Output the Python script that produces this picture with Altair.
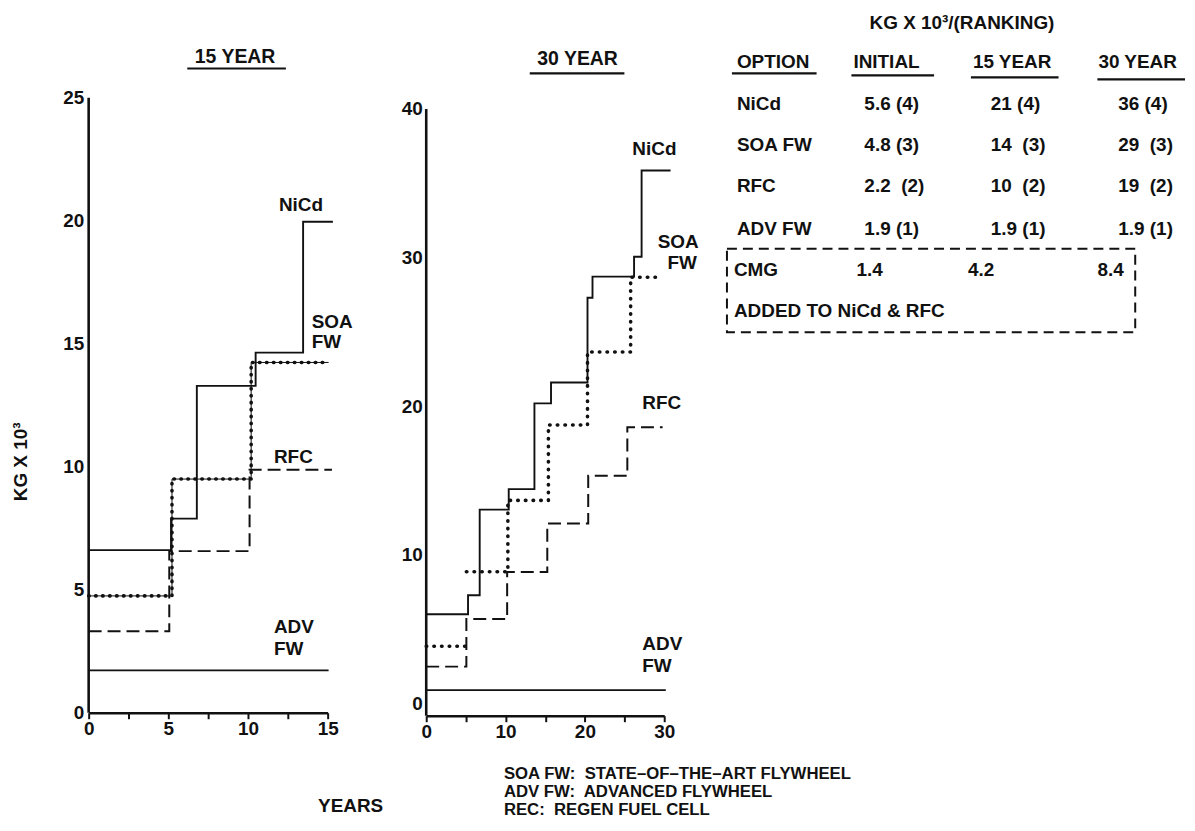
import altair as alt
import pandas as pd

FONT = "Liberation Sans"
INK = "#111111"
NB = "\u00a0"

# ---------------- data ----------------
# 15-YEAR panel (x = years, y = KG x 10^3)
nicd15_x = [0, 5.17, 6.79, 10.48, 13.46, 15.33]
nicd15_y = [6.61, 7.89, 13.29, 14.64, 19.96, 19.96]
soa15_x = [0, 5.23, 10.20, 15.06]
soa15_y = [4.75, 9.50, 14.24, 14.24]
rfc15_x = [0, 5.06, 10.10, 15.27]
rfc15_y = [3.31, 6.57, 9.88, 9.88]
adv15_x = [0, 15.06]
adv15_y = [1.72, 1.72]

# 30-YEAR panel
nicd30_x = [0, 5.27, 6.74, 10.40, 13.64, 15.73, 20.33, 20.96, 26.20, 27.15, 30.80]
nicd30_y = [5.99, 7.26, 13.03, 14.41, 20.18, 21.59, 27.29, 28.71, 30.05, 35.86, 35.86]
soa30a_x = [0, 4.93]
soa30a_y = [3.83, 3.83]
soa30b_x = [5.06, 10.29, 15.40, 20.33, 25.77, 29.33]
soa30b_y = [8.85, 13.65, 18.73, 23.64, 28.67, 28.67]
rfc30_x = [0, 5.06, 10.20, 15.26, 20.42, 25.35, 29.80]
rfc30_y = [2.46, 5.66, 8.83, 12.09, 15.31, 18.57, 18.57]
adv30_x = [0, 30.20]
adv30_y = [0.88, 0.88]

x15_ticks = [0, 2.5, 5, 7.5, 10, 12.5, 15]
y15_ticks = [0, 5, 10, 15, 20, 25]
x30_ticks = [0, 5, 10, 15, 20, 25, 30]
y30_ticks = [0, 10, 20, 30, 40]

# series labels
p1_labels = ["NiCd", "SOA", "FW", "RFC", "ADV", "FW"]
p2_labels = ["NiCd", "SOA", "FW", "RFC", "ADV", "FW"]
panel_titles = ["15 YEAR", "30 YEAR"]
y_title = "KG X 10³"
x_title = "YEARS"
footnotes = ["SOA FW:" + NB + " STATE–OF–THE–ART FLYWHEEL",
             "ADV FW:" + NB + " ADVANCED FLYWHEEL",
             "REC:" + NB + " REGEN FUEL CELL"]

# table
table_title = "KG X 10³/(RANKING)"
headers = ["OPTION", "INITIAL", "15 YEAR", "30 YEAR"]
options = ["NiCd", "SOA FW", "RFC", "ADV FW"]
initial = ["5.6 (4)", "4.8 (3)", "2.2" + NB + " (2)", "1.9 (1)"]
year15 = ["21 (4)", "14" + NB + " (3)", "10" + NB + " (2)", "1.9 (1)"]
year30 = ["36 (4)", "29" + NB + " (3)", "19" + NB + " (2)", "1.9 (1)"]
cmg_row = ["CMG", "1.4", "4.2", "8.4"]
cmg_note = "ADDED TO NiCd & RFC"

# ---------------- layout / style constants ----------------
FS = 19
P1_W, P1_H, P1_YMAX = 240, 706, 28.58
P2_W, P2_H, P2_YMIN, P2_YMAX = 239, 709, -0.845, 46.68
GAP = 99
P3_X0, P3_X1, P3_Y0, P3_Y1 = 766, 1190, 8, 348

# label anchor positions (data units of each panel)
p1_lab_x = [11.94, 14.0, 14.0, 11.63, 11.63, 11.63]
p1_lab_y = [20.65, 15.87, 15.06, 10.40, 3.48, 2.59]
p2_lab_x = [25.98, 31.76, 32.26, 27.24, 27.24, 27.24]
p2_lab_y = [37.29, 31.06, 29.65, 20.20, 3.98, 2.51]
p2_lab_align = ["left", "center", "center", "left", "left", "left"]
FOOT_X = 9.79
FOOT_Y = [-4.80, -6.01, -7.22]
FOOT_FS = 16.8

# table positions (page pixel frame of the table panel)
HEAD_X = [740, 857, 977, 1103]
HEAD_Y = 61
UNDER_X = [735, 855, 975, 1102]
UNDER_X2 = [820, 938, 1063, 1190]
UNDER_Y = [72, 74, 76, 78]
CELL_X = [740, 868, 995, 1123]
ROW_Y = [103, 144, 185, 228]
CMG_X = [737, 860, 972, 1102]
CMG_Y = 269
NOTE_XY = (737, 311)
TITLE_XY = (966, 21)
BOX = (730, 248, 1140, 332)


def txt(**kw):
    base = dict(font=FONT, fontSize=FS, fontWeight="bold", color=INK, baseline="middle")
    base.update(kw)
    return base


def axis_common(**kw):
    base = dict(title=None, grid=False, labelFont=FONT, labelFontSize=FS, labelFontWeight="bold",
                labelColor=INK, labelFlush=False, labelOverlap=False)
    base.update(kw)
    return alt.Axis(**base)


def series_df(xs, ys, seg=0):
    return pd.DataFrame({"x": xs, "y": ys, "seg": seg, "i": range(len(xs))})


def make_panel(sx, sy, ax, ay, width, height, solid, dotted, dashed, beads,
               yrule, labels, lab_x, lab_y, lab_align, title, title_xy, under,
               extra_texts):
    X = lambda f="x": alt.X(f"{f}:Q", scale=sx, axis=ax)
    Y = lambda f="y": alt.Y(f"{f}:Q", scale=sy, axis=ay)
    layers = []
    layers.append(alt.Chart(pd.DataFrame({"x": [0], "y": [yrule[0]], "y2": [yrule[1]]}))
                  .mark_rule(color=INK, strokeWidth=2.6)
                  .encode(x=X(), y=Y(), y2="y2:Q"))
    for df in solid:
        layers.append(alt.Chart(df).mark_line(interpolate="step-after", color=INK, strokeWidth=1.9)
                      .encode(x=X(), y=Y(), detail="seg:N", order="i:Q"))
    for df in dashed:
        layers.append(alt.Chart(df).mark_line(interpolate="step-after", color=INK, strokeWidth=2.0,
                                              strokeDash=[13, 6])
                      .encode(x=X(), y=Y(), detail="seg:N", order="i:Q"))
    for df in dotted:
        if beads:
            layers.append(alt.Chart(df).mark_line(interpolate="step-after", color=INK, strokeWidth=1.0)
                          .encode(x=X(), y=Y(), detail="seg:N", order="i:Q"))
        layers.append(alt.Chart(df).mark_line(interpolate="step-after", color=INK, strokeWidth=3.6,
                                              strokeDash=[0.5, 6.5 if beads else 7.2], strokeCap="round")
                      .encode(x=X(), y=Y(), detail="seg:N", order="i:Q"))
    # series labels
    for t, lx, ly, al in zip(labels, lab_x, lab_y, lab_align):
        layers.append(alt.Chart(pd.DataFrame({"x": [lx], "y": [ly], "t": [t]}))
                      .mark_text(**txt(align=al)).encode(x=X(), y=Y(), text="t:N"))
    # panel title with underline
    layers.append(alt.Chart(pd.DataFrame({"x": [title_xy[0]], "y": [title_xy[1]], "t": [title]}))
                  .mark_text(**txt(align="center", fontSize=19.5)).encode(x=X(), y=Y(), text="t:N"))
    layers.append(alt.Chart(pd.DataFrame({"x": [under[0]], "x2": [under[1]], "y": [under[2]]}))
                  .mark_rule(color=INK, strokeWidth=2.2).encode(x=X(), x2="x2:Q", y=Y()))
    for t, lx, ly, kw in extra_texts:
        layers.append(alt.Chart(pd.DataFrame({"x": [lx], "y": [ly], "t": [t]}))
                      .mark_text(**txt(**kw)).encode(x=X(), y=Y(), text="t:N"))
    return alt.layer(*layers).properties(width=width, height=height)


# ---------------- panel 1 : 15 YEAR ----------------
sx1 = alt.Scale(domain=[0, 15], nice=False, zero=False)
sy1 = alt.Scale(domain=[0, P1_YMAX], nice=False, zero=False)
ax1 = axis_common(values=x15_ticks, labelExpr="datum.value % 5 === 0 ? datum.label : ''",
                  domainColor=INK, domainWidth=2.6, tickColor=INK, tickWidth=2, tickSize=6,
                  labelPadding=1)
ay1 = axis_common(values=y15_ticks, domain=False, ticks=False, tickSize=0, labelPadding=5)

p1 = make_panel(
    sx1, sy1, ax1, ay1, P1_W, P1_H,
    solid=[series_df(nicd15_x, nicd15_y), series_df(adv15_x, adv15_y)],
    dotted=[series_df(soa15_x, soa15_y)],
    dashed=[series_df(rfc15_x, rfc15_y)],
    beads=True,
    yrule=(0, 25),
    labels=p1_labels, lab_x=p1_lab_x, lab_y=p1_lab_y, lab_align=["left"] * 6,
    title=panel_titles[0], title_xy=(9.19, 26.64), under=(6.19, 12.38, 26.19),
    extra_texts=[(y_title, -4.25, 10.2, dict(align="center", angle=270)),
                 (x_title, 16.44, -3.8, dict(align="center"))],
)

# ---------------- panel 2 : 30 YEAR ----------------
sx2 = alt.Scale(domain=[0, 30], nice=False, zero=False)
sy2 = alt.Scale(domain=[P2_YMIN, P2_YMAX], nice=False, zero=False)
ax2 = axis_common(values=x30_ticks, labelExpr="datum.value % 10 === 0 ? datum.label : ''",
                  domainColor=INK, domainWidth=2.6, tickColor=INK, tickWidth=2, tickSize=6,
                  labelPadding=1)
ay2 = axis_common(values=y30_ticks, domain=False, ticks=False, tickSize=0, labelPadding=4)

p2 = make_panel(
    sx2, sy2, ax2, ay2, P2_W, P2_H,
    solid=[series_df(nicd30_x, nicd30_y), series_df(adv30_x, adv30_y)],
    dotted=[pd.concat([series_df(soa30a_x, soa30a_y, 0), series_df(soa30b_x, soa30b_y, 1)])],
    dashed=[series_df(rfc30_x, rfc30_y)],
    beads=False,
    yrule=(P2_YMIN, 40),
    labels=p2_labels, lab_x=p2_lab_x, lab_y=p2_lab_y, lab_align=p2_lab_align,
    title=panel_titles[1], title_xy=(19.08, 43.39), under=(13.05, 24.98, 42.39),
    extra_texts=[(f, FOOT_X, fy, dict(align="left", fontSize=FOOT_FS))
                 for f, fy in zip(footnotes, FOOT_Y)],
)

# ---------------- panel 3 : table ----------------
sx3 = alt.Scale(domain=[P3_X0, P3_X1], nice=False, zero=False)
sy3 = alt.Scale(domain=[P3_Y0, P3_Y1], nice=False, zero=False, reverse=True)
X3 = lambda f="x": alt.X(f"{f}:Q", scale=sx3, axis=None)
Y3 = lambda f="y": alt.Y(f"{f}:Q", scale=sy3, axis=None)

rows = []
for h, hx in zip(headers, HEAD_X):
    rows.append((h, hx, HEAD_Y))
for r, ry in enumerate(ROW_Y):
    for col, cx in zip([options, initial, year15, year30], CELL_X):
        rows.append((col[r], cx, ry))
for c, cx in zip(cmg_row, CMG_X):
    rows.append((c, cx, CMG_Y))
rows.append((cmg_note, NOTE_XY[0], NOTE_XY[1]))
table_df = pd.DataFrame(rows, columns=["t", "x", "y"])

box = (alt.Chart(pd.DataFrame({"x": [BOX[0]], "x2": [BOX[2]], "y": [BOX[1]], "y2": [BOX[3]]}))
       .mark_rect(fill="white", fillOpacity=0, stroke=INK, strokeWidth=2, strokeDash=[10, 6])
       .encode(x=X3(), x2="x2:Q", y=Y3(), y2="y2:Q"))
unders = (alt.Chart(pd.DataFrame({"x": UNDER_X, "x2": UNDER_X2, "y": UNDER_Y}))
          .mark_rule(color=INK, strokeWidth=2.2).encode(x=X3(), x2="x2:Q", y=Y3()))
ttext = (alt.Chart(table_df).mark_text(**txt(align="left"))
         .encode(x=X3(), y=Y3(), text="t:N"))
ttitle = (alt.Chart(pd.DataFrame({"x": [TITLE_XY[0]], "y": [TITLE_XY[1]], "t": [table_title]}))
          .mark_text(**txt(align="center")).encode(x=X3(), y=Y3(), text="t:N"))
p3 = alt.layer(box, unders, ttext, ttitle).properties(width=P3_X1 - P3_X0, height=P3_Y1 - P3_Y0)

chart = (alt.hconcat(p1, p2, p3, spacing=GAP, bounds="flush")
         .properties(padding={"left": 4, "top": 0, "right": 0, "bottom": 0}, background="white")
         .configure_view(strokeWidth=0))

chart.save("out.html", embed_options={"renderer": "svg", "actions": False})
